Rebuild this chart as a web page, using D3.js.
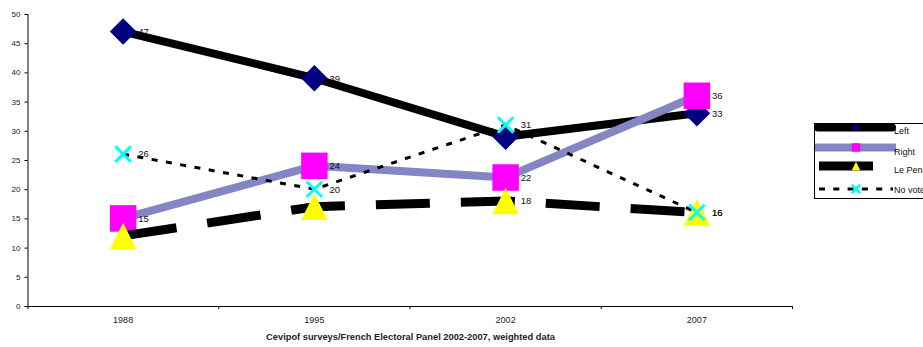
<!DOCTYPE html>
<html>
<head>
<meta charset="utf-8">
<script src="https://cdn.jsdelivr.net/npm/d3@7"></script>
<style>
  html, body { margin: 0; padding: 0; background: #fff; }
  svg { display: block; font-family: "Liberation Sans", Arial, sans-serif; }
</style>
</head>
<body>
<svg id="chart" width="923" height="347"></svg>
<script>
// Vote in the presidential first round, by election year (%)
const years = ["1988", "1995", "2002", "2007"];
const leftVote = [47, 39, 29, 33];
const rightVote = [15, 24, 22, 36];
const lePenVote = [12, 17, 18, 16];
const noVote = [26, 20, 31, 16];
const yTicks = [0, 5, 10, 15, 20, 25, 30, 35, 40, 45, 50];
const sourceNote = "Cevipof surveys/French Electoral Panel 2002-2007, weighted data";

// which points carry a value label
const leftLabels = [true, true, false, true];
const rightLabels = [true, true, true, true];
const lePenLabels = [false, false, true, true];
const noVoteLabels = [true, true, true, true];

const series = [
  { name: "Left", values: leftVote, labels: leftLabels, stroke: "#000", width: 8, dash: null, marker: "diamond", fill: "#000080" },
  { name: "Right", values: rightVote, labels: rightLabels, stroke: "#8585c6", width: 8, dash: null, marker: "square", fill: "#ff00ff" },
  { name: "Le Pen", values: lePenVote, labels: lePenLabels, stroke: "#000", width: 9, dash: "54,31", marker: "triangle", fill: "#ffff00" },
  { name: "No vote", values: noVote, labels: noVoteLabels, stroke: "#000", width: 3, dash: "6,8.5", marker: "cross", fill: "#00ffff" }
];

const svg = d3.select("#chart");
const x = d3.scaleBand().domain(years).range([27.5, 792.5]).padding(0);
const y = d3.scaleLinear().domain([0, 50]).range([306, 14]);
const cx = d => x(d) + x.bandwidth() / 2;

// Axes
const yAxis = svg.append("g").attr("transform", "translate(27.5,0)")
  .call(d3.axisLeft(y).tickValues(yTicks).tickSize(3).tickPadding(4).tickSizeOuter(0));
yAxis.select(".domain").attr("stroke", "#000").attr("d", "M0.5,14V309");
yAxis.selectAll(".tick line").attr("stroke", "#000");
yAxis.selectAll(".tick text").attr("font-size", 8).attr("fill", "#222")
  .attr("font-family", "Liberation Sans, Arial, sans-serif");

const xAxis = svg.append("g").attr("transform", "translate(0,306)")
  .call(d3.axisBottom(x).tickSize(0).tickPadding(11).tickSizeOuter(0));
xAxis.select(".domain").attr("stroke", "#000").attr("stroke-width", 1.2);
xAxis.selectAll(".tick text").attr("font-size", 9).attr("fill", "#222")
  .attr("font-family", "Liberation Sans, Arial, sans-serif");
// tick marks on category boundaries
const bounds = years.slice(1).map(d => x(d)).concat([x(years[years.length - 1]) + x.bandwidth()]);
xAxis.selectAll(".bound").data(bounds).enter().append("line")
  .attr("x1", d => d).attr("x2", d => d).attr("y1", 0).attr("y2", 3)
  .attr("stroke", "#000");

svg.append("text")
  .attr("x", (x.range()[0] + x.range()[1]) / 2 + 0.5).attr("y", 340)
  .attr("text-anchor", "middle").attr("font-size", 9.3).attr("font-weight", "bold").attr("fill", "#222")
  .text(sourceNote);

// Marker shapes
function markerPath(type, s) {
  const h = s / 2;
  if (type === "diamond") return `M0,${-h}L${h},0L0,${h}L${-h},0Z`;
  if (type === "square") return `M${-h},${-h}H${h}V${h}H${-h}Z`;
  if (type === "triangle") return `M0,${-h}L${h},${h}L${-h},${h}Z`;
  return `M${-h},${-h}L${h},${h}M${h},${-h}L${-h},${h}`;
}
function drawMarker(g, type, fill, size) {
  const p = g.append("path").attr("d", markerPath(type, size));
  if (type === "cross") p.attr("fill", "none").attr("stroke", fill).attr("stroke-width", size > 10 ? 3 : 2.5);
  else p.attr("fill", fill);
  return p;
}

const line = d3.line().x(d => cx(d.year)).y(d => y(d.value));

series.forEach(s => {
  const pts = years.map((yr, i) => ({ year: yr, value: s.values[i], show: s.labels[i] }));
  const g = svg.append("g");
  g.append("path").datum(pts).attr("d", line)
    .attr("fill", "none").attr("stroke", s.stroke).attr("stroke-width", s.width)
    .attr("stroke-linejoin", "round")
    .attr("stroke-dasharray", s.dash);
  pts.forEach(p => {
    const m = g.append("g").attr("transform", `translate(${cx(p.year)},${y(p.value)})`);
    drawMarker(m, s.marker, s.fill, s.marker === "cross" ? 15.5 : 26.5);
  });
  s.pts = pts;
});

// Value labels
series.forEach(s => {
  svg.append("g").selectAll("text").data(s.pts.filter(d => d.show)).enter().append("text")
    .attr("x", d => cx(d.year) + 15).attr("y", d => y(d.value))
    .attr("dy", "0.35em").attr("font-size", 9.5).attr("fill", "#111")
    .text(d => d.value);
});

// Legend
const lg = svg.append("g");
lg.append("rect").attr("x", 814.5).attr("y", 123.5).attr("width", 130).attr("height", 75)
  .attr("fill", "#fff").attr("stroke", "#000");
const rowsY = [127.5, 147.5, 166, 189];
const textY = [131, 152, 170, 190];
const legendLines = [
  { x1: 818, x2: 892, cap: "round" },
  { x1: 815, x2: 896, cap: "butt" },
  { x1: 819, x2: 873, cap: "butt" },
  { x1: 819, x2: 893, cap: "butt" }
];
series.forEach((s, i) => {
  const ll = legendLines[i];
  lg.append("line").attr("x1", ll.x1).attr("x2", ll.x2).attr("y1", rowsY[i]).attr("y2", rowsY[i])
    .attr("stroke", s.stroke).attr("stroke-width", s.width).attr("stroke-linecap", ll.cap)
    .attr("stroke-dasharray", i === 3 ? "6,8.3" : null);
  const m = lg.append("g").attr("transform", `translate(856,${rowsY[i]})`);
  drawMarker(m, s.marker, s.fill, 8.5);
  lg.append("text").attr("x", 894).attr("y", textY[i]).attr("dy", "0.35em")
    .attr("font-size", 9).attr("fill", "#111").text(s.name);
});
</script>
</body>
</html>
